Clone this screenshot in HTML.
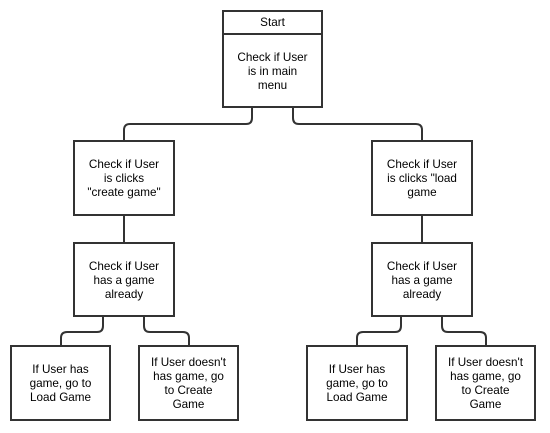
<!DOCTYPE html>
<html><head><meta charset="utf-8"><style>
html,body{margin:0;padding:0;background:#fff;}
body{width:550px;height:433px;position:relative;overflow:hidden;font-family:"Liberation Sans",sans-serif;font-size:11.7px;color:#000;}
.b{position:absolute;border:2px solid #333;box-sizing:border-box;display:flex;align-items:center;justify-content:center;text-align:center;line-height:14px;background:#fff;padding-top:2px;}
svg{position:absolute;left:0;top:0;}
</style></head><body>
<svg width="550" height="433"><g fill="none" stroke="#333" stroke-width="2">
<path d="M252 107 V118 Q252 124 246 124 H130 Q124 124 124 130 V140"/>
<path d="M293 107 V118 Q293 124 299 124 H416 Q422 124 422 130 V140"/>
<path d="M124 215 V242"/>
<path d="M422 215 V242"/>
<path d="M103 316 V326 Q103 332 97 332 H67 Q61 332 61 338 V345"/>
<path d="M144 316 V326 Q144 332 150 332 H183 Q189 332 189 338 V345"/>
<path d="M401 316 V326 Q401 332 395 332 H363 Q357 332 357 338 V345"/>
<path d="M442 316 V326 Q442 332 448 332 H480 Q486 332 486 338 V345"/>
</g></svg>
<div class="b" style="left:222px;top:10px;width:101px;height:98px;display:block;padding-top:0;">
<div style="height:21px;border-bottom:2px solid #333;line-height:21px;">Start</div>
<div style="padding-top:16px;">Check if User<br>is in main<br>menu</div></div>
<div class="b" style="left:73px;top:140px;width:102px;height:76px;">Check if User<br>is clicks<br>"create game"</div>
<div class="b" style="left:371px;top:140px;width:102px;height:76px;">Check if User<br>is clicks "load<br>game</div>
<div class="b" style="left:73px;top:242px;width:102px;height:75px;">Check if User<br>has a game<br>already</div>
<div class="b" style="left:371px;top:242px;width:102px;height:75px;">Check if User<br>has a game<br>already</div>
<div class="b" style="left:10px;top:345px;width:101px;height:76px;">If User has<br>game, go to<br>Load Game</div>
<div class="b" style="left:138px;top:345px;width:101px;height:76px;">If User doesn't<br>has game, go<br>to Create<br>Game</div>
<div class="b" style="left:306px;top:345px;width:102px;height:76px;">If User has<br>game, go to<br>Load Game</div>
<div class="b" style="left:435px;top:345px;width:101px;height:76px;">If User doesn't<br>has game, go<br>to Create<br>Game</div>
</body></html>
